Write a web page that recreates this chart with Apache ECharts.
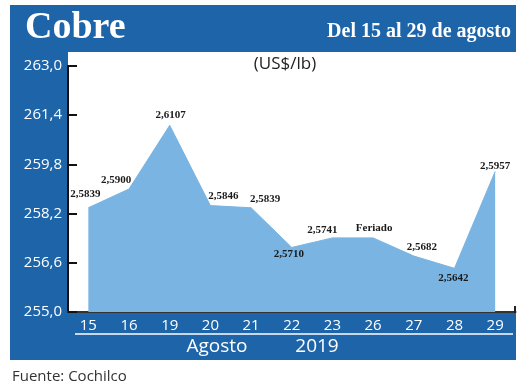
<!DOCTYPE html>
<html>
<head>
<meta charset="utf-8">
<script src="https://cdn.jsdelivr.net/npm/echarts@6/dist/echarts.min.js"></script>
<style>html,body{margin:0;padding:0;background:#fff}#c{width:520px;height:390px}</style>
</head>
<body>
<div id="c"></div>
<script>
// Data
const days = ['15','16','19','20','21','22','23','26','27','28','29'];
const prices = [2.5839, 2.5900, 2.6107, 2.5846, 2.5839, 2.5710, 2.5741, 2.5741, 2.5682, 2.5642, 2.5957]; // US$/lb
const pointLabels = ['2,5839','2,5900','2,6107','2,5846','2,5839','2,5710','2,5741','Feriado','2,5682','2,5642','2,5957'];
const yTicks = [255.0, 256.6, 258.2, 259.8, 261.4, 263.0];

// label placement (style only)
const labelSide = ['top','top','top','top','top','bottom','top','top','top','bottom','top'];
const labelShift = [[-3,-3],[-13,2],[1,0],[13,1],[14,2],[-3,-4],[-10,3],[1,1],[8,2],[-1,-1],[0,5]];

const BLUE = '#1d64a9';
const AREA = '#7ab4e2';
const sans = "'Open Sans', 'Noto Sans', sans-serif";
const serif = "'Liberation Serif', 'DejaVu Serif', serif";

const seriesData = prices.map((p, i) => ({
  value: Math.round(p * 10000) / 100,
  label: {show: true, position: labelSide[i]}
}));

const chart = echarts.init(document.getElementById('c'), null, {renderer: 'canvas'});
chart.setOption({
  animation: false,
  graphic: [
    {type:'rect', z:-10, shape:{x:10, y:5, width:506, height:355}, style:{fill:BLUE}, silent:true},
    {type:'rect', z:-9, shape:{x:68, y:52, width:448, height:260}, style:{fill:'#ffffff'}, silent:true},
    {type:'line', z:10, shape:{x1:75, y1:334, x2:513, y2:334}, style:{stroke:'#ffffff', lineWidth:1.5}, silent:true},
    {type:'line', z:10, shape:{x1:515, y1:306, x2:515, y2:313}, style:{stroke:'#222', lineWidth:2}, silent:true},
    {type:'text', z:10, style:{text:'Cobre', x:25, y:28, fill:'#fff', font:'bold 38px ' + serif, textAlign:'left', textVerticalAlign:'middle'}},
    {type:'text', z:10, style:{text:'Del 15 al 29 de agosto', x:511, y:32, fill:'#fff', font:'bold 20px ' + serif, textAlign:'right', textVerticalAlign:'middle'}},
    {type:'text', z:10, style:{text:'(US$/lb)', x:285, y:64, fill:'#222', font:'17px ' + sans, textAlign:'center', textVerticalAlign:'middle'}},
    {type:'text', z:10, style:{text:'Agosto', x:217, y:347, fill:'#fff', font:'19px ' + sans, textAlign:'center', textVerticalAlign:'middle'}},
    {type:'text', z:10, style:{text:'2019', x:317, y:347, fill:'#fff', font:'19px ' + sans, textAlign:'center', textVerticalAlign:'middle'}},
    {type:'text', z:10, style:{text:'Fuente: Cochilco', x:12, y:377, fill:'#333', font:'15px ' + sans, textAlign:'left', textVerticalAlign:'middle'}}
  ],
  grid: {left: 68, right: 4.5, top: 66, bottom: 78, containLabel: false},
  xAxis: {
    type: 'category',
    data: days,
    boundaryGap: true,
    axisLine: {show: true, lineStyle: {color: '#333', width: 2}},
    axisTick: {show: false},
    axisLabel: {color: '#fff', fontSize: 15, fontFamily: sans, margin: 6}
  },
  yAxis: {
    type: 'value',
    min: yTicks[0],
    max: yTicks[yTicks.length - 1],
    interval: 1.6,
    axisLine: {show: true, lineStyle: {color: '#111', width: 2}},
    axisTick: {show: true, inside: true, length: 9, lineStyle: {color: '#111', width: 2}},
    splitLine: {show: false},
    axisLabel: {
      color: '#fff', fontSize: 15, fontFamily: sans, margin: 6,
      formatter: v => v.toFixed(1).replace('.', ',')
    }
  },
  series: [{
    type: 'line',
    data: seriesData,
    showSymbol: true,
    showAllSymbol: true,
    symbol: 'circle',
    symbolSize: 2,
    itemStyle: {color: 'rgba(0,0,0,0)', borderWidth: 0},
    lineStyle: {color: AREA, width: 1},
    areaStyle: {color: AREA, opacity: 1},
    label: {
      show: true,
      color: '#1a1a1a',
      fontSize: 11,
      fontWeight: 'bold',
      fontFamily: serif,
      distance: 4,
      formatter: p => pointLabels[p.dataIndex]
    },
    labelLayout: p => ({
      dx: labelShift[p.dataIndex][0],
      dy: labelShift[p.dataIndex][1],
      hideOverlap: false
    }),
    z: 2
  }]
});
</script>
</body>
</html>
